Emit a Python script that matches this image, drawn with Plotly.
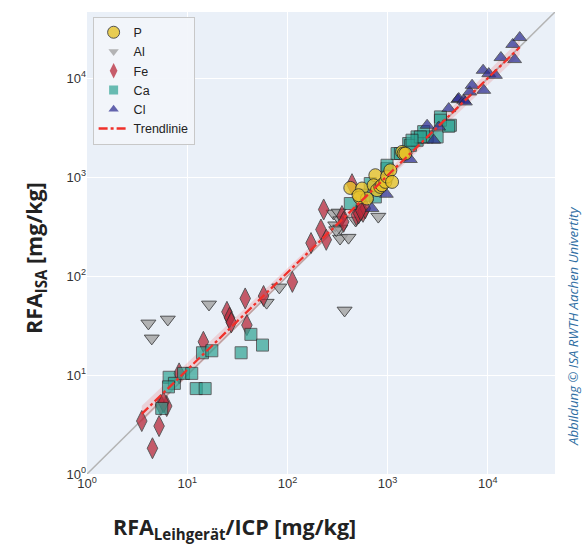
import numpy as np
import plotly.graph_objects as go

# ---- data ----
p_x = [424, 555, 525, 622, 754, 724, 783, 845, 879, 948, 986, 1064, 1107, 1393, 1445, 1503, 513]
p_y = [780, 769, 624, 609, 1047, 830, 740, 798, 830, 897, 1016, 1175, 897, 1800, 1735, 1735, 658]

al_x = [4.1, 6.4, 4.43, 16.5, 62, 83, 372, 289, 324, 300, 337, 335, 407, 337, 480, 807, 307]
al_y = [33.3, 36.5, 23.5, 51.8, 54, 77, 45, 430, 440, 327, 303, 240, 245, 368, 365, 400, 292]

fe_x = [3.52, 5.24, 4.5, 5.45, 6.24, 5.8, 8.3, 14.5, 24.9, 26.4, 27.5, 37.9, 39.4, 57.8,
        112, 172, 216, 230, 244, 441, 350, 364, 487, 513, 568, 598, 540]
fe_y = [3.43, 3.05, 1.82, 4.98, 4.86, 5.3, 10.4, 21.7, 43.6, 38, 34, 59.5, 32, 63,
        87.5, 216, 296, 472, 233, 850, 405, 354, 413, 430, 447, 483, 460]

ca_x = [5.57, 6.6, 7.45, 6.5, 9.2, 11.1, 12.3, 15.1, 14.2, 17.6, 34.5, 43.2, 56.4,
        424, 671, 754, 986, 1242, 1622, 1968, 2290, 622, 3365, 4230, 3116, 2477, 1966,
        1686, 2290, 3365, 4070, 2120, 1750, 1340, 986]
ca_y = [4.6, 9.5, 8.25, 7.6, 10.4, 10.4, 7.3, 7.3, 16.8, 17.6, 16.8, 25.8, 20.1,
        542, 863, 632, 1225, 1735, 2190, 2366, 2555, 658, 4070, 3350, 2555, 2555, 2555,
        2100, 2890, 3770, 3275, 2555, 2366, 1735, 1320]

cl_x = [971, 699, 1686, 2477, 2885, 3235, 4070, 5010, 5120, 5750, 5970, 6590, 6960,
        8970, 9100, 10200, 11900, 13500, 17700, 18500, 20800]
cl_y = [673, 483, 1510, 3350, 2366, 3220, 4940, 6090, 6240, 6000, 5770, 7280, 8500,
        12050, 7560, 11150, 10720, 16200, 22000, 15450, 25800]

identity_line = [1, 60000]
tick_vals = [1, 10, 100, 1000, 10000]
tick_text = ["10<sup>0</sup>", "10<sup>1</sup>", "10<sup>2</sup>", "10<sup>3</sup>", "10<sup>4</sup>"]

# ---- regression in log space (trend line + 95% CI) ----
all_x = np.log10(np.array(p_x + al_x + fe_x + ca_x + cl_x, dtype=float))
all_y = np.log10(np.array(p_y + al_y + fe_y + ca_y + cl_y, dtype=float))
slope, intercept = np.polyfit(all_x, all_y, 1)
n = len(all_x)
resid = all_y - (slope * all_x + intercept)
s = np.sqrt(np.sum(resid ** 2) / (n - 2))
xm = all_x.mean()
sxx = np.sum((all_x - xm) ** 2)
grid = np.linspace(all_x.min(), all_x.max(), 100)
fit = slope * grid + intercept
se = s * np.sqrt(1.0 / n + (grid - xm) ** 2 / sxx)
lo = fit - 1.97 * se
hi = fit + 1.97 * se

fig = go.Figure()

# identity line
fig.add_trace(go.Scatter(x=identity_line, y=identity_line, mode="lines",
                         line=dict(color="#b4b4b4", width=1.5), showlegend=False,
                         hoverinfo="skip"))

# CI band
fig.add_trace(go.Scatter(x=np.concatenate([10 ** grid, (10 ** grid)[::-1]]),
                         y=np.concatenate([10 ** hi, (10 ** lo)[::-1]]),
                         fill="toself", fillcolor="rgba(240,70,70,0.18)",
                         line=dict(width=0), mode="lines", showlegend=False,
                         hoverinfo="skip"))

edge = dict(color="#2a2a2a", width=1)
series = [
    # name, x, y, symbol, size, color, opacity, legend size, rank
    ("Al", al_x, al_y, "triangle-down", 13, "#a3a3a3", 0.8, 9, 2),
    ("Fe", fe_x, fe_y, "diamond-tall", 15, "#b8283a", 0.75, 11, 3),
    ("Ca", ca_x, ca_y, "square", 12, "#2ea393", 0.7, 9, 4),
    ("Cl", cl_x, cl_y, "triangle-up", 12, "#2b2b8f", 0.72, 9, 5),
    ("P", p_x, p_y, "circle", 13, "#e6c229", 0.8, 12, 1),
]
for name, xs, ys, sym, size, col, op, lsize, rank in series:
    fig.add_trace(go.Scatter(x=xs, y=ys, mode="markers", name=name, showlegend=False,
                             marker=dict(symbol=sym, size=size, color=col,
                                         opacity=op, line=edge)))
    # legend-only entry with the smaller legend glyph
    fig.add_trace(go.Scatter(x=[None], y=[None], mode="markers", name=name,
                             legendrank=rank,
                             marker=dict(symbol=sym, size=lsize, color=col, opacity=op,
                                         line=dict(color="#2a2a2a",
                                                   width=1 if name == "P" else 0))))

fig.add_trace(go.Scatter(x=10 ** grid, y=10 ** fit, mode="lines", name="Trendlinie",
                         legendrank=6,
                         line=dict(color="#f0302a", width=2.3, dash="dashdot")))

axis_common = dict(type="log", range=[0, 4.67], tickvals=tick_vals, ticktext=tick_text,
                   showgrid=True, gridcolor="white", gridwidth=1.2, zeroline=False,
                   showline=False, ticks="", tickfont=dict(family="Liberation Sans",
                                                           size=13, color="#333333"))

fig.update_layout(
    width=587, height=547,
    margin=dict(l=87, r=32, t=12, b=73),
    paper_bgcolor="white", plot_bgcolor="#eaf0f8",
    xaxis=axis_common, yaxis=axis_common,
    legend=dict(x=0.012, y=0.99, xanchor="left", yanchor="top",
                bgcolor="rgba(242,245,250,0.92)", bordercolor="#c8c8c8", borderwidth=1,
                font=dict(family="Liberation Sans", size=12.5, color="#222222"),
                tracegroupgap=0, itemsizing="trace"),
    showlegend=True,
    annotations=[
        dict(text="<b>RFA<sub>Leihgerät</sub>/ICP [mg/kg]</b>", xref="paper", yref="paper",
             x=0.316, y=-0.117, xanchor="center", yanchor="middle", showarrow=False,
             font=dict(family="Open Sans", size=21.5, color="#222222")),
        dict(text="<b>RFA<sub>ISA</sub> [mg/kg]</b>", xref="paper", yref="paper",
             x=-0.111, y=0.4675, xanchor="center", yanchor="middle", showarrow=False,
             textangle=-90, font=dict(family="Open Sans", size=21.5, color="#222222")),
        dict(text="<i>Abbildung © ISA RWTH Aachen Univertity</i>", xref="paper", yref="paper",
             x=1.038, y=0.32, xanchor="center", yanchor="middle", showarrow=False,
             textangle=-90, font=dict(family="Open Sans", size=13.2, color="#2f6ea3")),
    ],
)

fig.write_html("out.html", config={"displayModeBar": False},
               post_script="document.body.style.margin='0';document.body.style.overflow='hidden';")
